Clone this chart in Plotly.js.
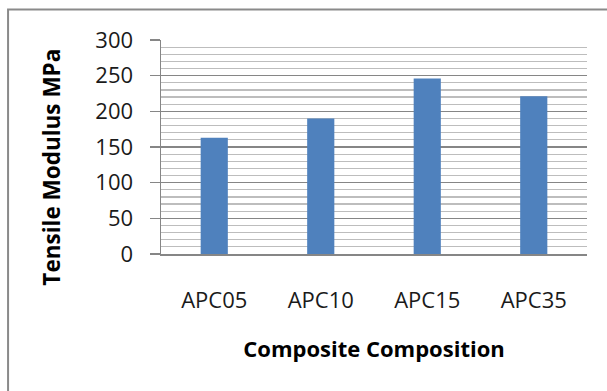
<!DOCTYPE html>
<html>
<head>
<meta charset="utf-8">
<script src="https://cdn.plot.ly/plotly-3.0.1.min.js"></script>
<style>
  html, body { margin: 0; padding: 0; background: #ffffff; }
  #chart { width: 607px; height: 391px; }
</style>
</head>
<body>
<div id="chart"></div>
<script>
const categories = ["APC05", "APC10", "APC15", "APC35"];
const tensileModulus = [163, 190, 246, 221];
const yTickValues = [0, 50, 100, 150, 200, 250, 300];
const xTitle = "Composite Composition";
const yTitle = "Tensile Modulus MPa";

const trace = {
  type: "bar",
  x: categories,
  y: tensileModulus,
  marker: { color: "#4f81bd" },
  hoverinfo: "x+y"
};

const layout = {
  width: 607,
  height: 391,
  margin: { l: 161, r: 20, t: 40, b: 137 },
  paper_bgcolor: "#ffffff",
  plot_bgcolor: "#ffffff",
  bargap: 0.745,
  showlegend: false,
  font: { family: "Open Sans, sans-serif", color: "#1a1a1a" },
  xaxis: {
    type: "category",
    showline: true,
    linecolor: "#868686",
    linewidth: 1.5,
    showgrid: false,
    ticks: "",
    ticklabelstandoff: 26,
    tickfont: { family: "Open Sans, sans-serif", size: 22, color: "#1a1a1a" },
    title: {
      text: xTitle,
      font: { family: "Open Sans, sans-serif", size: 22, color: "#000000", weight: "bold" },
      standoff: 28
    },
    automargin: false
  },
  yaxis: {
    range: [0, 300],
    tickvals: yTickValues,
    ticktext: yTickValues.map(String),
    showline: true,
    linecolor: "#868686",
    linewidth: 1.5,
    showgrid: true,
    gridcolor: "#868686",
    gridwidth: 1.5,
    ticks: "outside",
    ticklen: 10,
    tickwidth: 1.5,
    tickcolor: "#868686",
    ticklabelstandoff: 12,
    zeroline: false,
    minor: { dtick: 10, showgrid: true, gridcolor: "#bdbdbd", gridwidth: 1.2, ticks: "" },
    tickfont: { family: "Open Sans, sans-serif", size: 22, color: "#1a1a1a" },
    automargin: false
  },
  annotations: [{
    text: yTitle,
    xref: "paper", yref: "paper",
    x: -0.256, y: 0.408,
    xanchor: "center", yanchor: "middle",
    textangle: -90,
    showarrow: false,
    font: { family: "Open Sans, sans-serif", size: 22.5, color: "#000000", weight: "bold" }
  }],
  shapes: [{
    type: "rect",
    xref: "paper", yref: "paper",
    x0: -0.359, x1: 1.06,
    y0: -0.66, y1: 1.142,
    line: { color: "#8a8a8a", width: 2 },
    fillcolor: "rgba(0,0,0,0)",
    layer: "above"
  }]
};

Plotly.newPlot("chart", [trace], layout, { displayModeBar: false, staticPlot: true });
</script>
</body>
</html>
